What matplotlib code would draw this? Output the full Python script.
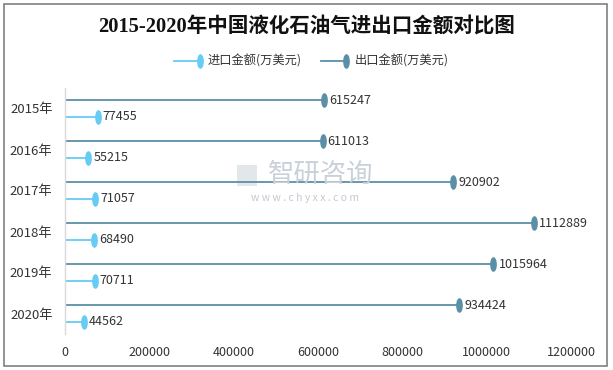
import matplotlib
matplotlib.use("Agg")
import matplotlib.pyplot as plt
from matplotlib.markers import MarkerStyle
from matplotlib.transforms import Affine2D
from matplotlib.lines import Line2D
from matplotlib.patches import Rectangle

plt.rcParams['font.family'] = ['Noto Sans CJK SC', 'DejaVu Sans']

years = ['2015年', '2016年', '2017年', '2018年', '2019年', '2020年']
imports = [77455, 55215, 71057, 68490, 70711, 44562]
exports = [615247, 611013, 920902, 1112889, 1015964, 934424]
series_names = ['进口金额(万美元)', '出口金额(万美元)']
title = '2015-2020年中国液化石油气进出口金额对比图'
xticks = [0, 200000, 400000, 600000, 800000, 1000000, 1200000]

c_imp = '#66CCF5'
c_exp = '#5B8FA8'
W, H = 613, 370
fig = plt.figure(figsize=(W/100, H/100), dpi=100)

ax = fig.add_axes([65/W, (H-334)/H, 506/W, 246/H])
ell = MarkerStyle('o', transform=Affine2D().scale(0.4, 1.0))
MS = 9.5

off = 0.207
for i in range(len(years)):
    ye = i - off
    yi = i + off
    ax.plot([0, exports[i]], [ye, ye], color=c_exp, lw=1.3, solid_capstyle='butt')
    ax.plot([exports[i]], [ye], marker=ell, ms=MS, color=c_exp, mec=c_exp, ls='none')
    ax.text(exports[i] + 12000, ye, f'{exports[i]}', va='center', ha='left', fontsize=9, color='#333333')
    ax.plot([0, imports[i]], [yi, yi], color=c_imp, lw=1.3, solid_capstyle='butt')
    ax.plot([imports[i]], [yi], marker=ell, ms=MS, color=c_imp, mec=c_imp, ls='none')
    ax.text(imports[i] + 12000, yi, f'{imports[i]}', va='center', ha='left', fontsize=9, color='#333333')

ax.set_xlim(0, 1200000)
ax.set_ylim(len(years) - 0.5, -0.5)
ax.set_xticks(xticks)
ax.set_xticklabels([str(v) for v in xticks], fontsize=9, color='#333333')
ax.set_yticks(range(len(years)))
ax.set_yticklabels(years, fontsize=9.5, color='#333333')
ax.tick_params(axis='both', length=0)
ax.tick_params(axis='x', pad=9)
ax.tick_params(axis='y', pad=9)
for s in ['top', 'right', 'bottom']:
    ax.spines[s].set_visible(False)
ax.spines['left'].set_color('#D9D9D9')
ax.spines['left'].set_linewidth(1.0)
ax.patch.set_alpha(0)

# watermark
fig.text(321/W, 1 - 174/H, '智研咨询', fontsize=19, color='#C9D0D8', ha='center', va='center', zorder=0)
fig.text(305/W, 1 - 198/H, 'w w w . c h y x x . c o m', fontsize=7.5, color='#C4CAD2', ha='center', va='center', zorder=0)
fig.add_artist(Rectangle((237/W, 1 - 186/H), 20/W, 21/H, transform=fig.transFigure,
                         facecolor='#E2E7EC', edgecolor='none', zorder=0))

# title
fig.text(307/W, 1 - 28/H, title, fontsize=14.8, fontweight='bold', ha='center', va='center',
         family=['Liberation Serif', 'Noto Sans CJK SC'], color='#111111')

# legend (manual)
ly = 1 - 61/H
for (x0, x1, tx, col, name) in [(174, 200, 208, c_imp, series_names[0]), (321, 346, 355, c_exp, series_names[1])]:
    fig.add_artist(Line2D([x0/W, x1/W], [ly, ly], color=col, lw=1.3, transform=fig.transFigure))
    fig.add_artist(Line2D([x1/W], [ly], marker=ell, ms=MS, color=col, mec=col, ls='none', transform=fig.transFigure))
    fig.text(tx/W, ly, name, fontsize=8.8, va='center', ha='left', color='#333333')

# border
fig.add_artist(Rectangle((4/W, 4/H), 603/W, 362/H, transform=fig.transFigure, fill=False,
                         edgecolor='#808080', lw=1.2))

fig.savefig('out.png', dpi=100)
